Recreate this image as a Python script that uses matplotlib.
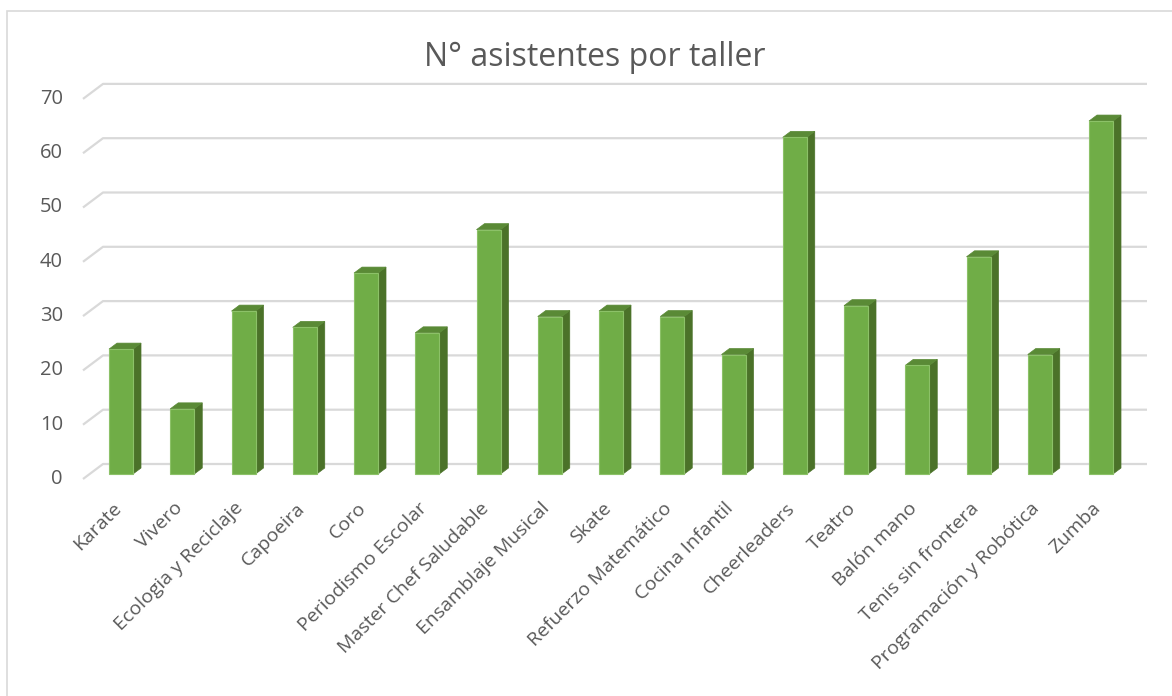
import matplotlib
matplotlib.use("Agg")
import matplotlib.pyplot as plt
from matplotlib.patches import Polygon, Rectangle
import numpy as np

plt.rcParams['font.family'] = ['Open Sans', 'DejaVu Sans']

title = "N° asistentes por taller"
categories = ["Karate", "Vivero", "Ecologia y Reciclaje", "Capoeira", "Coro",
              "Periodismo Escolar", "Master Chef Saludable", "Ensamblaje Musical",
              "Skate", "Refuerzo Matemático", "Cocina Infantil", "Cheerleaders",
              "Teatro", "Balón mano", "Tenis sin frontera", "Programación y Robótica",
              "Zumba"]
values = [23, 12, 30, 27, 37, 26, 45, 29, 30, 29, 22, 62, 31, 20, 40, 22, 65]
yticks = [0, 10, 20, 30, 40, 50, 60, 70]

W, H = 1172, 696
fig = plt.figure(figsize=(W / 100, H / 100), dpi=100)

# axes in pixel layout
ax_l, ax_r, ax_b, ax_t = 60, 1160, 490, 70
ax = fig.add_axes([ax_l / W, 1 - ax_b / H, (ax_r - ax_l) / W, (ax_b - ax_t) / H])
px_per_cat = 61.25
x0_px = 121
px_per_unit = 5.43
base_px = 474
ax.set_xlim((ax_l - x0_px) / px_per_cat, (ax_r - x0_px) / px_per_cat)
ax.set_ylim((base_px - ax_b) / px_per_unit, (base_px - ax_t) / px_per_unit)
ax.axis('off')

# gridlines (floor-to-back-wall perspective)
g_front_dy = -5 / px_per_unit
g_back_dy = 10 / px_per_unit
g_front_x = (83 - x0_px) / px_per_cat
g_back_x = (103 - x0_px) / px_per_cat
g_right_x = (1147 - x0_px) / px_per_cat
grid_c = '#D9D9D9'
for v in yticks:
    ax.plot([g_front_x, g_back_x, g_right_x],
            [v + g_front_dy, v + g_back_dy, v + g_back_dy],
            color=grid_c, lw=1.6, solid_capstyle='butt', zorder=1)
    ax.text(g_front_x - 20 / px_per_cat, v + g_front_dy, str(v),
            ha='right', va='center', fontsize=14.5, color='#595959')

# bars with 3D look
bw = 24 / px_per_cat
ddx = 8 / px_per_cat
ddy = 6 / px_per_unit
x = np.arange(len(categories))
front = '#70AD47'
side = '#4B7229'
top = '#5A8A36'
ax.bar(x, values, width=bw, color=front, edgecolor='#8CC168', linewidth=0.8, zorder=3)
for xi, v in zip(x, values):
    r = xi + bw / 2
    l = xi - bw / 2
    ax.add_patch(Polygon([[r, 0], [r + ddx, ddy], [r + ddx, v + ddy], [r, v]],
                         closed=True, facecolor=side, edgecolor=side, lw=0.5, zorder=2))
    ax.add_patch(Polygon([[l, v], [r, v], [r + ddx, v + ddy], [l + ddx, v + ddy]],
                         closed=True, facecolor=top, edgecolor=top, lw=0.5, zorder=2))

# category labels
for xi, c in zip(x, categories):
    ax.text(xi - 0.15, -4.6, c, rotation=45, rotation_mode='anchor',
            ha='right', va='top', fontsize=14, color='#595959', clip_on=False)

fig.text(595 / W, 1 - 57 / H, title, ha='center', va='center',
         fontsize=23, color='#595959')

# chart border
fig.patches.append(Rectangle((6.5 / W, -0.1), 1.2, 1 - 11 / H + 0.1,
                             transform=fig.transFigure, fill=False,
                             edgecolor='#D9D9D9', lw=1.2))

fig.savefig('out.png', dpi=100)
